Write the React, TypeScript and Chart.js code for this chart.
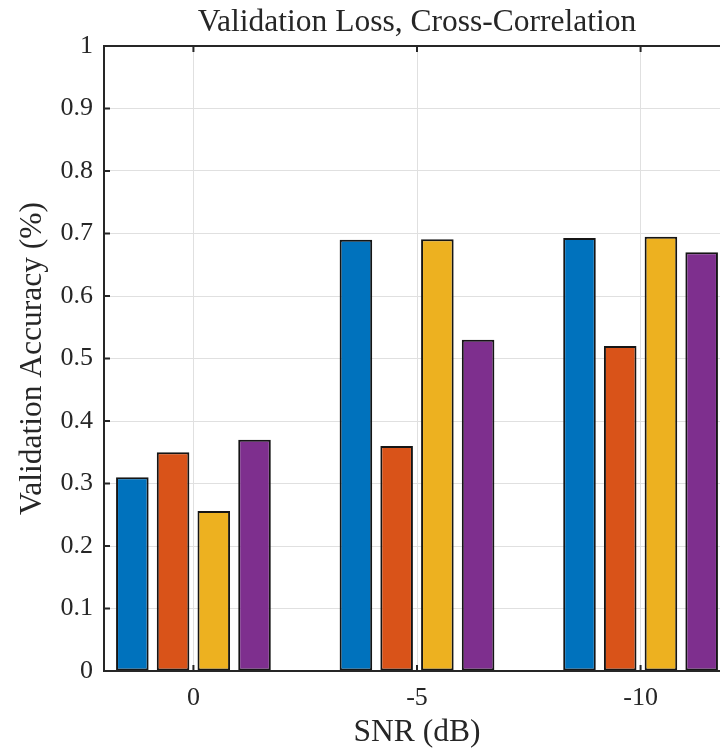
import React, { useEffect, useRef } from 'react';
import { Chart, registerables } from 'chart.js';

Chart.register(...registerables);

// ---- Data ----
const categories = ['0', '-5', '-10'];
const categoryPositions = [1, 2, 3];
const seriesNames = ['Series 1', 'Series 2', 'Series 3', 'Series 4'];
const series1 = [0.31, 0.69, 0.693];
const series2 = [0.35, 0.36, 0.52];
const series3 = [0.256, 0.691, 0.695];
const series4 = [0.37, 0.53, 0.67];
const seriesColors = ['#0072BD', '#D95319', '#EDB120', '#7E2F8E'];
const yTickValues = [0, 0.1, 0.2, 0.3, 0.4, 0.5, 0.6, 0.7, 0.8, 0.9, 1];

const titleText = 'Validation Loss, Cross-Correlation';
const xLabel = 'SNR (dB)';
const yLabel = 'Validation Accuracy (%)';

const FONT = "'Liberation Serif', 'Times New Roman', serif";
const AXIS_COLOR = '#262626';
const GRID_COLOR = '#e0e0e0';

const framePlugin = {
  id: 'matlabFrame',
  afterDatasetsDraw(chart: any) {
    const { ctx, chartArea, scales } = chart;
    const { left, right, top, bottom } = chartArea;
    const x = scales.x;
    const y = scales.y;
    ctx.save();
    ctx.strokeStyle = AXIS_COLOR;
    ctx.lineWidth = 2;
    ctx.beginPath();
    ctx.rect(left, top, right - left, bottom - top);
    y.ticks.forEach((t: any) => {
      const py = y.getPixelForValue(t.value);
      ctx.moveTo(left, py);
      ctx.lineTo(left + 6, py);
      ctx.moveTo(right, py);
      ctx.lineTo(right - 6, py);
    });
    x.ticks.forEach((t: any) => {
      const px = x.getPixelForValue(t.value);
      ctx.moveTo(px, bottom);
      ctx.lineTo(px, bottom - 6);
      ctx.moveTo(px, top);
      ctx.lineTo(px, top + 6);
    });
    ctx.stroke();
    ctx.restore();
  },
};

export default function App() {
  const canvasRef = useRef<HTMLCanvasElement | null>(null);

  useEffect(() => {
    const canvas = canvasRef.current;
    if (!canvas) return;
    const allSeries = [series1, series2, series3, series4];
    const chart = new Chart(canvas, {
      type: 'bar',
      data: {
        datasets: allSeries.map((vals, i) => ({
          label: seriesNames[i],
          data: vals.map((v, j) => ({ x: categoryPositions[j], y: v })),
          backgroundColor: seriesColors[i],
          borderColor: '#151515',
          borderWidth: 2,
          borderSkipped: false,
          categoryPercentage: 0.7286,
          barPercentage: 0.8,
        })),
      },
      plugins: [framePlugin],
      options: {
        responsive: false,
        animation: false,
        devicePixelRatio: 1,
        layout: { padding: { left: 0, right: 30, top: 0, bottom: 0 } },
        plugins: {
          legend: { display: false },
          tooltip: { enabled: false },
          title: {
            display: true,
            text: titleText,
            fullSize: false,
            color: AXIS_COLOR,
            font: { family: FONT, size: 31.5, weight: 'normal' },
            padding: { top: 3.6, bottom: 4.6 },
          },
        },
        scales: {
          x: {
            type: 'linear',
            min: 0.6,
            max: 3.4,
            offset: false,
            afterBuildTicks: (scale: any) => {
              scale.ticks = categoryPositions.map((v) => ({ value: v }));
            },
            afterFit: (scale: any) => {
              scale.height = 81;
            },
            ticks: {
              color: AXIS_COLOR,
              font: { family: FONT, size: 26 },
              padding: 11.5,
              maxRotation: 0,
              autoSkip: false,
              callback: (value: any) => {
                const idx = categoryPositions.indexOf(Number(value));
                return idx >= 0 ? categories[idx] : '';
              },
            },
            grid: { color: GRID_COLOR, lineWidth: 1, drawTicks: false, offset: false },
            border: { display: false },
            title: {
              display: true,
              text: xLabel,
              color: AXIS_COLOR,
              font: { family: FONT, size: 31.5 },
              padding: { top: 0, bottom: 0 },
            },
          },
          y: {
            type: 'linear',
            min: 0,
            max: 1,
            afterBuildTicks: (scale: any) => {
              scale.ticks = yTickValues.map((v) => ({ value: v }));
            },
            afterFit: (scale: any) => {
              scale.width = 104;
            },
            ticks: {
              color: AXIS_COLOR,
              font: { family: FONT, size: 26 },
              padding: 11,
              callback: (value: any) => String(Number(Number(value).toFixed(1))),
            },
            grid: { color: GRID_COLOR, lineWidth: 1, drawTicks: false },
            border: { display: false },
            title: {
              display: true,
              text: yLabel,
              color: AXIS_COLOR,
              font: { family: FONT, size: 31.5 },
              padding: { top: 14, bottom: 0 },
            },
          },
        },
      },
    } as any);
    return () => chart.destroy();
  }, []);

  return (
    <div
      style={{
        position: 'fixed',
        left: 0,
        top: 0,
        width: 720,
        height: 752,
        overflow: 'hidden',
        background: '#ffffff',
      }}
    >
      <canvas ref={canvasRef} width={760} height={752} style={{ display: 'block', width: 760, height: 752 }} />
    </div>
  );
}
